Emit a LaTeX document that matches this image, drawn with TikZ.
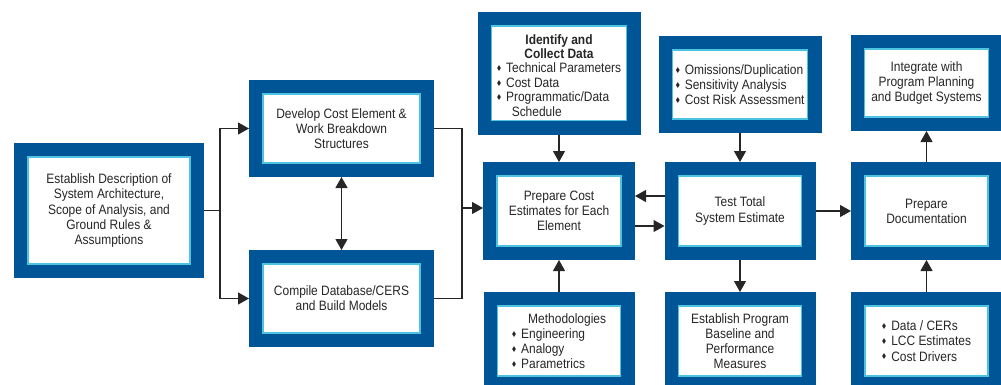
\documentclass[tikz,border=0pt]{standalone}
\usepackage{amsmath,amssymb}
\usepackage{fontspec}
\setmainfont[FakeStretch=0.88]{Liberation Sans}
\usepackage{xcolor}
\usepackage{tikz}
\usetikzlibrary{arrows.meta}
\definecolor{navy}{HTML}{005596}
\definecolor{rim}{HTML}{4CC3E0}
\definecolor{ink}{HTML}{262626}
\newcommand{\bx}{\fontsize{13.6}{15.2}\selectfont}
\newcommand{\bul}{\raisebox{0.3ex}{\scalebox{0.5}{$\blacklozenge$}}\hspace{0.35em}}
\tikzset{
  blk/.style={fill=white, draw=rim, line width=1.3pt, preaction={draw=navy, line width=28pt},
    outer sep=14pt, inner sep=0pt, align=center, text=ink, font=\bx},
  ln/.style={draw=ink, line width=1.2pt},
  arr/.style={ln, -{Triangle[length=11pt,width=12pt]}},
  dbl/.style={ln, {Triangle[length=11pt,width=12pt]}-{Triangle[length=11pt,width=12pt]}}
}

\begin{document}
\begin{tikzpicture}[x=1pt,y=-1pt]
\useasboundingbox (0,0) rectangle (1001,384);

% left part
\node[blk, minimum width=162, minimum height=107] (est) at (109,210.5)
  {Establish Description of\\System Architecture,\\Scope of Analysis, and\\Ground Rules \&\\Assumptions};
\node[blk, minimum width=157, minimum height=69] (dev) at (341.5,128.5)
  {Develop Cost Element \&\\Work Breakdown\\Structures};
\node[blk, minimum width=157, minimum height=69] (comp) at (341.5,298.5)
  {Compile Database/CERS\\and Build Models};

% middle column
\node[blk, minimum width=135, minimum height=91] (ident) at (559,73.3)
  {\renewcommand{\arraystretch}{0.95}%
   \begin{tabular}{@{}l@{}}
   \multicolumn{1}{@{}c@{}}{\rule{0pt}{18pt}\textbf{Identify and}}\\
   \multicolumn{1}{@{}c@{}}{\textbf{Collect Data}}\\
   \bul Technical Parameters\\
   \bul Cost Data\\
   \bul Programmatic/Data\\
   \hspace*{1.1em}Schedule
   \end{tabular}};
\node[blk, minimum width=124, minimum height=70] (prep) at (559,211)
  {Prepare Cost\\Estimates for Each\\Element};
\node[blk, minimum width=123, minimum height=70, align=left] (meth) at (559,341)
  {\hspace*{1.2em}Methodologies\\\bul Engineering\\\bul Analogy\\\bul Parametrics};

% test column
\node[blk, minimum width=135, minimum height=69, align=left] (omis) at (740,84.5)
  {\bul Omissions/Duplication\\\bul Sensitivity Analysis\\\bul Cost Risk Assessment};
\node[blk, minimum width=123, minimum height=70] (test) at (740,211)
  {Test Total\\System Estimate};
\node[blk, minimum width=123, minimum height=70] (estp) at (740,341)
  {Establish Program\\Baseline and\\Performance\\Measures};

% right column
\node[blk, minimum width=124, minimum height=68] (integ) at (926.5,83)
  {Integrate with\\Program Planning\\and Budget Systems};
\node[blk, minimum width=123, minimum height=70] (doc) at (926.5,211)
  {Prepare\\Documentation};
\node[blk, minimum width=123, minimum height=70, align=left] (data) at (926.5,341)
  {\bul Data / CERs\\\bul LCC Estimates\\\bul Cost Drivers};

% connectors
\coordinate (jl) at (220,210.5);
\coordinate (jr) at (462,208);
\draw[ln] (est.east) -- (jl);
\draw[arr] (jl) |- (dev.west);
\draw[arr] (jl) |- (comp.west);
\draw[dbl] (dev.south) -- (comp.north);
\draw[ln] (dev.east) -| (jr);
\draw[ln] (comp.east) -| (jr);
\draw[arr] (jr) -- (jr -| prep.west);
\draw[arr] (ident.south) -- (prep.north);
\draw[arr] (meth.north) -- (prep.south);
\draw[arr] (omis.south) -- (test.north);
\draw[arr] (test.south) -- (estp.north);
\draw[arr] ([yshift=15pt]test.west) -- ([yshift=15pt]prep.east);
\draw[arr] ([yshift=-15pt]prep.east) -- ([yshift=-15pt]test.west);
\draw[arr] (test.east) -- (doc.west);
\draw[arr] (doc.north) -- (integ.south);
\draw[arr] (data.north) -- (doc.south);
\end{tikzpicture}
\end{document}
